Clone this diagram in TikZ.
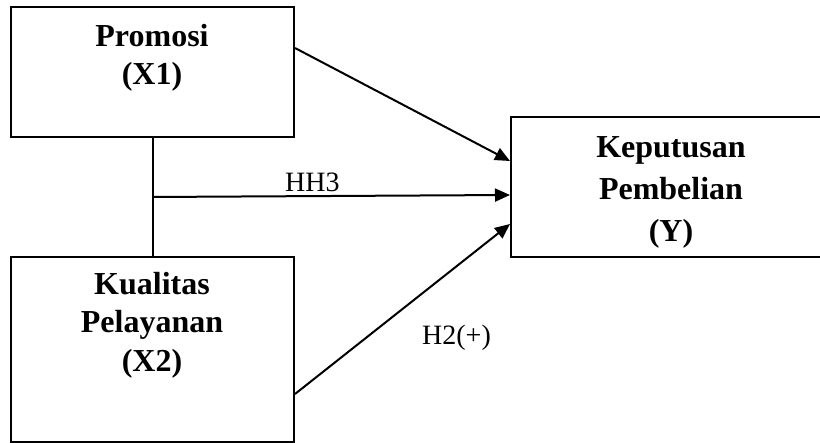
\documentclass[tikz,border=0pt]{standalone}
\usepackage{fontspec}
\setmainfont{Liberation Serif}
\usetikzlibrary{arrows.meta,calc}
\tikzset{
  box/.style={draw=black, line width=2pt, rectangle, inner sep=0pt},
  conn/.style={draw=black, line width=2pt},
  arr/.style={conn, -{Triangle[length=15pt,width=13pt]}},
  title/.style={anchor=base, inner sep=0pt, font=\fontsize{32}{38}\selectfont\bfseries},
  lab/.style={anchor=base west, inner sep=0pt, font=\fontsize{28}{32}\selectfont},
}
\begin{document}
\begin{tikzpicture}[x=1pt,y=-1pt]
\clip (0,0) rectangle (820,443);
\fill[white] (0,0) rectangle (820,443);
% boxes
\node[box, minimum width=283pt, minimum height=130pt] (x1) at (152.5,72) {};
\node[box, minimum width=283pt, minimum height=185pt] (x2) at (152.5,349.5) {};
\node[box, minimum width=320pt, minimum height=140pt] (y) at (671,187) {};
% texts
\node[title] (t1a) at (152,47) {Promosi};
\node[title] (t1b) at (152,85) {(X1)};
\node[title] (t2a) at (152,295) {Kualitas};
\node[title] (t2b) at (152,333) {Pelayanan};
\node[title] (t2c) at (152,372) {(X2)};
\node[title] (tya) at (671,158) {Keputusan};
\node[title] (tyb) at (671,200) {Pembelian};
\node[title] (tyc) at (671,242) {(Y)};
% connectors
\draw[conn] (x1.south) -- (x2.north);
\coordinate (mid) at ($(x1.south)!0.5!(x2.north)$);
\draw[arr] (mid) -- ([yshift=-79pt]y.north west);
\draw[arr] ([yshift=-42pt]x1.north east) -- ([yshift=-45pt]y.north west);
\draw[arr] ([yshift=-138pt]x2.north east) -- ([yshift=-108pt]y.north west);
% labels
\node[lab] (h3) at (285,192) {HH3};
\node[lab] (h2) at (422,345) {H2(+)};
\end{tikzpicture}
\end{document}
